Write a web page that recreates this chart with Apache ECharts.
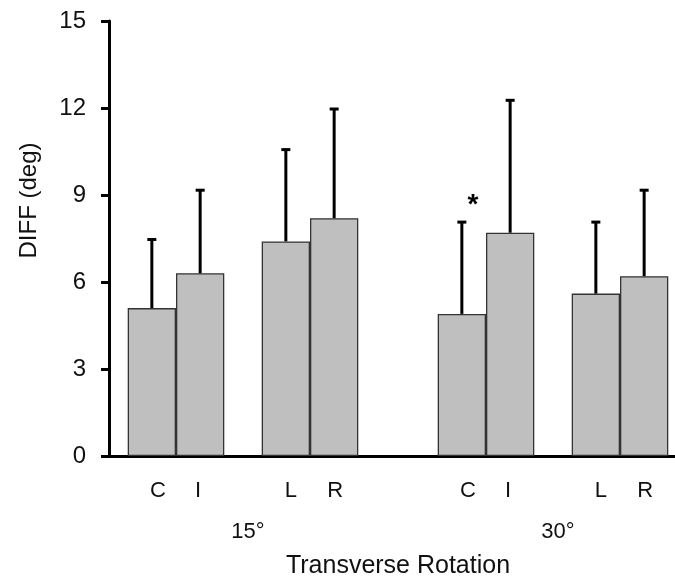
<!DOCTYPE html>
<html>
<head>
<meta charset="utf-8">
<script src="https://cdn.jsdelivr.net/npm/echarts@6/dist/echarts.min.js"></script>
<style>
  html, body { margin: 0; padding: 0; background: #fff; }
  #chart { width: 675px; height: 580px; }
</style>
</head>
<body>
<div id="chart"></div>
<script>
// groups on the x axis and the four conditions in each group
const groups = ['15°', '30°']
const conditions = ['C', 'I', 'L', 'R']
// mean DIFF (deg) per condition, one array per group
const mean15 = [5.1, 6.3, 7.4, 8.2]
const mean30 = [4.9, 7.7, 5.6, 6.2]
// standard deviation (upper error bar length)
const sd15 = [2.4, 2.9, 3.2, 3.8]
const sd30 = [3.2, 4.6, 2.5, 3.0]
// significance markers
const sig15 = ['', '', '', '']
const sig30 = ['*', '', '', '']
// y axis ticks
const yTicks = [0, 3, 6, 9, 12, 15]

const FONT = 'Liberation Sans, Arial, sans-serif'
const TEXT = '#111'
// slot widths inside one group: C, I, (gap), L, R
const slotWidths = [48.3, 48.3, 37.4, 48.3, 48.3]
const slotOfCondition = [0, 1, 3, 4]
// small horizontal nudge of the condition letters, as in the original
const letterShift = [6, -2, 5, 1]

// centre offset of each slot relative to the category centre
const totalWidth = slotWidths.reduce((a, b) => a + b, 0)
const slotOffsets = []
let acc = -totalWidth / 2
slotWidths.forEach(w => { slotOffsets.push(acc + w / 2); acc += w })

const means = [mean15, mean30]
const sds = [sd15, sd30]
const sigs = [sig15, sig30]

// bar series, one per slot (the gap slot has no data)
const barSeries = []
slotWidths.forEach((w, slot) => {
  const k = slotOfCondition.indexOf(slot)
  barSeries.push({
    type: 'bar',
    xAxisIndex: 0,
    yAxisIndex: 0,
    barWidth: w,
    barGap: '0%',
    data: k < 0 ? ['-', '-'] : groups.map((g, gi) => means[gi][k]),
    itemStyle: { color: '#bfbfbf', borderColor: '#333', borderWidth: 1.3 },
    label: {
      show: k >= 0,
      position: 'bottom',
      distance: 24,
      offset: [k >= 0 ? letterShift[k] : 0, 0],
      formatter: () => conditions[k],
      fontFamily: FONT,
      fontSize: 22,
      color: TEXT
    },
    silent: true
  })
})

// error bar data: [group index, mean, upper, slot, marker]
const errData = []
groups.forEach((g, gi) => {
  conditions.forEach((c, k) => {
    errData.push([gi, means[gi][k], means[gi][k] + sds[gi][k], slotOfCondition[k], sigs[gi][k]])
  })
})

const errSeries = {
  type: 'custom',
  xAxisIndex: 0,
  yAxisIndex: 0,
  z: 5,
  silent: true,
  data: errData,
  renderItem (params, api) {
    const gi = api.value(0)
    const slot = api.value(3)
    const base = api.coord([gi, api.value(1)])
    const top = api.coord([gi, api.value(2)])
    const x = base[0] + slotOffsets[slot]
    const style = { stroke: '#000', lineWidth: 3 }
    const children = [
      { type: 'line', shape: { x1: x, y1: base[1], x2: x, y2: top[1] }, style },
      { type: 'line', shape: { x1: x - 4.5, y1: top[1] + 1, x2: x + 4.5, y2: top[1] + 1 }, style }
    ]
    const mark = errData[params.dataIndex][4]
    if (mark) {
      children.push({
        type: 'text',
        style: {
          x: x + 11, y: top[1] - 16, text: mark,
          font: 'bold 28px ' + FONT, fill: '#000',
          align: 'center', verticalAlign: 'middle'
        }
      })
    }
    return { type: 'group', children }
  }
}

const chart = echarts.init(document.getElementById('chart'))
chart.setOption({
  animation: false,
  backgroundColor: '#fff',
  grid: [
    // bars: two categories, 310 px each
    { left: 88, width: 620, top: 21, bottom: 124, outerBoundsMode: 'none', containLabel: false },
    // visible axes frame
    { left: 109, right: 0, top: 21, bottom: 124, outerBoundsMode: 'none', containLabel: false }
  ],
  xAxis: [
    {
      type: 'category',
      gridIndex: 0,
      data: groups,
      axisLine: { show: false },
      axisTick: { show: false },
      axisLabel: { fontFamily: FONT, fontSize: 22, color: TEXT, margin: 65, padding: [0, 0, 0, 10] },
      name: 'Transverse Rotation',
      nameLocation: 'middle',
      nameGap: 98,
      nameTextStyle: { fontFamily: FONT, fontSize: 25, color: TEXT }
    },
    {
      type: 'value',
      gridIndex: 1,
      min: 0,
      max: 1,
      axisLine: { show: true, onZero: false, lineStyle: { color: '#000', width: 3 } },
      axisTick: { show: false },
      axisLabel: { show: false },
      splitLine: { show: false }
    }
  ],
  yAxis: [
    {
      type: 'value',
      gridIndex: 0,
      min: yTicks[0],
      max: yTicks[yTicks.length - 1],
      show: false
    },
    {
      type: 'value',
      gridIndex: 1,
      min: yTicks[0],
      max: yTicks[yTicks.length - 1],
      interval: yTicks[1] - yTicks[0],
      axisLine: { show: true, lineStyle: { color: '#000', width: 3 } },
      axisTick: { show: true, inside: false, length: 8, lineStyle: { color: '#000', width: 3 } },
      axisLabel: { fontFamily: FONT, fontSize: 24, color: TEXT, margin: 23 },
      splitLine: { show: false },
      name: 'DIFF (deg)',
      nameLocation: 'middle',
      nameGap: 68,
      nameTextStyle: { fontFamily: FONT, fontSize: 24, color: TEXT, padding: [0, 0, 0, 76] }
    }
  ],
  series: [...barSeries, errSeries]
})
</script>
</body>
</html>
